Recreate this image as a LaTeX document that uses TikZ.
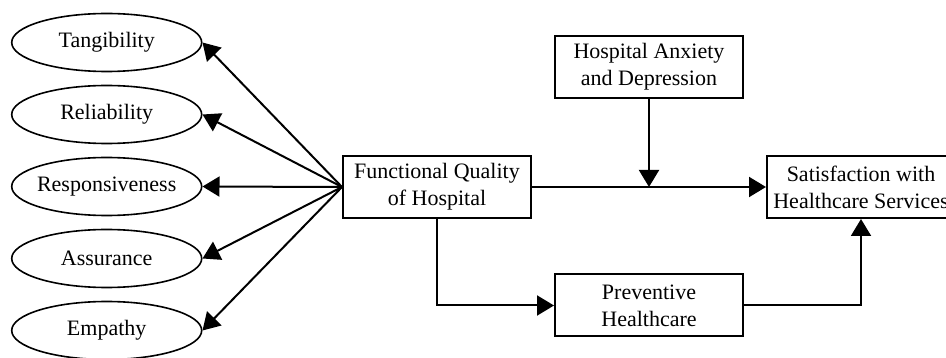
\documentclass[tikz,border=0pt]{standalone}
\usepackage{fontspec}
\setmainfont{Liberation Serif}
\usetikzlibrary{arrows.meta,shapes.geometric}
\begin{document}
\begin{tikzpicture}[x=1pt,y=-1pt,
  font=\fontsize{22}{27}\selectfont,
  oval/.style={ellipse,draw,line width=1.6pt,minimum width=190pt,minimum height=58pt,inner sep=0pt},
  box/.style={rectangle,draw,line width=2pt,minimum width=188pt,minimum height=62pt,align=center,inner sep=0pt},
  conn/.style={line width=2pt,-{Triangle[length=17pt,width=20pt]}},
  plain/.style={line width=2pt}]
\useasboundingbox (0,0) rectangle (946,358);
\clip (0,0) rectangle (946,358);
\node[oval] (tan) at (106.7,42.5) {Tangibility};
\node[oval] (rel) at (106.7,114.5) {Reliability};
\node[oval] (res) at (106.7,186.5) {\makebox[0pt]{Responsiveness}};
\node[oval] (ass) at (106.7,258.5) {Assurance};
\node[oval] (emp) at (106.7,330.5) {Empathy};
\node[box] (func) at (437,187) {Functional Quality\\of Hospital};
\node[box] (hosp) at (649,67) {Hospital Anxiety\\and Depression};
\node[box] (sat) at (861,187) {Satisfaction with\\Healthcare Services};
\node[box] (prev) at (649,305.5) {Preventive\\Healthcare};
\draw[conn] (func.west) -- (tan.east);
\draw[conn] (func.west) -- (rel.east);
\draw[conn] (func.west) -- (res.east);
\draw[conn] (func.west) -- (ass.east);
\draw[conn] (func.west) -- (emp.east);
\draw[conn] (func.east) -- (sat.west);
\draw[conn] (hosp.south) -- (hosp.south |- func.east);
\draw[conn] (func.south) |- (prev.west);
\draw[conn] (prev.east) -| (sat.south);
\end{tikzpicture}
\end{document}
